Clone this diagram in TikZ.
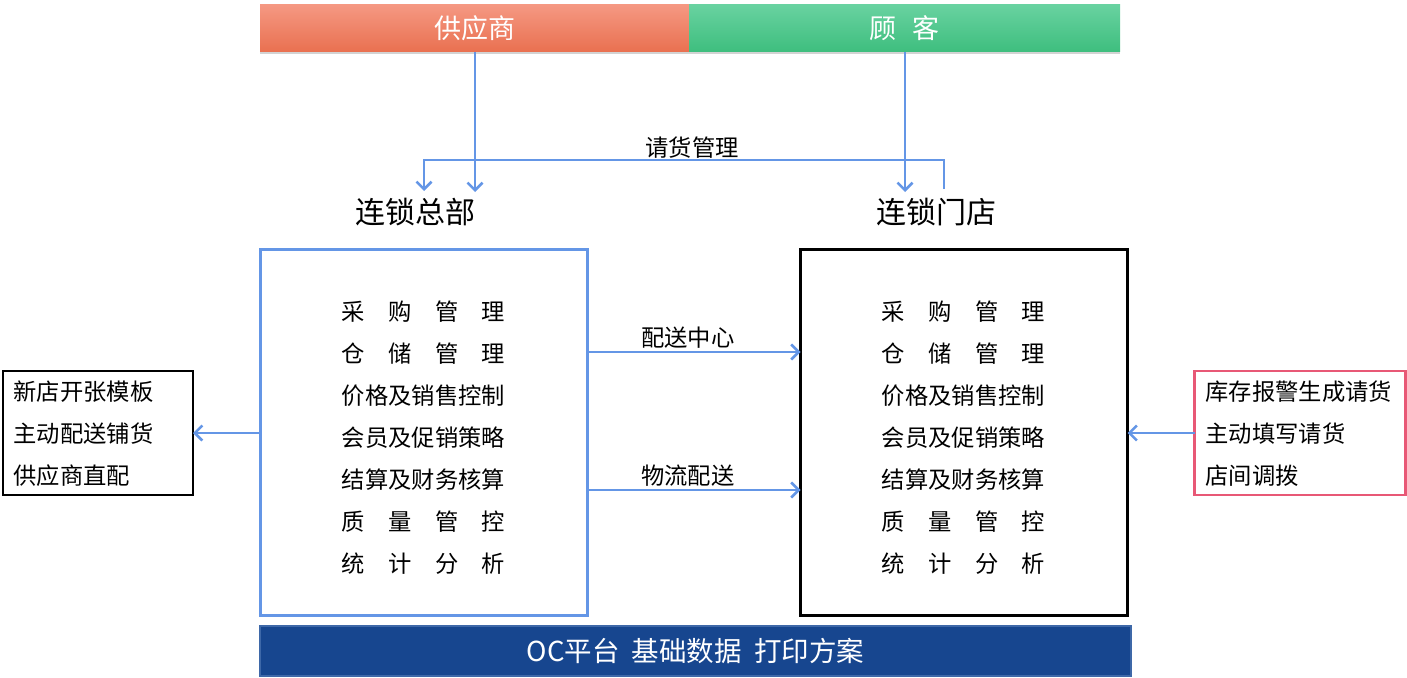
\documentclass[tikz,border=0pt]{standalone}
\usepackage{fontspec}
\setmainfont{Noto Sans CJK SC}
\usetikzlibrary{arrows.meta,shadows}
\definecolor{lineblue}{RGB}{100,150,230}
\definecolor{pinkline}{RGB}{232,88,118}
\definecolor{ocfill}{RGB}{23,70,143}
\definecolor{ocline}{RGB}{62,104,168}
\definecolor{orTop}{RGB}{245,152,130}
\definecolor{orBot}{RGB}{233,112,80}
\definecolor{grTop}{RGB}{104,210,160}
\definecolor{grBot}{RGB}{62,190,126}
\tikzset{
  body/.style={font=\fontsize{23.3}{42}\selectfont},
  barbox/.style={inner sep=0pt, outer sep=0pt, text=white, font=\fontsize{27}{30}\selectfont,
    drop shadow={opacity=0.35, shadow xshift=0pt, shadow yshift=-2.5pt}},
  conn/.style={draw=lineblue, line width=2.6pt, -{Straight Barb[length=7.5pt,width=15pt,line width=2.6pt]}},
  heading/.style={font=\fontsize{30}{34}\selectfont, inner sep=0pt},
  bigbox/.style={minimum width=327, minimum height=366, inner sep=0pt, outer sep=0pt},
  sidebox/.style={minimum width=190, minimum height=124, inner sep=0pt, outer sep=0pt},
}
\newcommand{\spreadrow}[4]{\makebox[7em][s]{#1\hfill #2\hfill #3\hfill #4}}
\newcommand{\boxlines}{\spreadrow{采}{购}{管}{理}\\
  \spreadrow{仓}{储}{管}{理}\\
  价格及销售控制\\
  会员及促销策略\\
  结算及财务核算\\
  \spreadrow{质}{量}{管}{控}\\
  \spreadrow{统}{计}{分}{析}}
\begin{document}
\begin{tikzpicture}[x=1pt,y=-1pt]
\useasboundingbox (0,0) rectangle (1407,677);
% top bar
\node[barbox, top color=orTop, bottom color=orBot, minimum width=429, minimum height=47] (supp) at (474.5,28.5) {供应商};
\node[barbox, top color=grTop, bottom color=grBot, minimum width=431, minimum height=47] (cust) at (904.5,28.5) {顾\hspace{0.6em}客};
% headings
\node[heading] (hq) at (415,212) {连锁总部};
\node[heading] (store) at (936,212) {连锁门店};
\coordinate (hqA) at (475,192);
\coordinate (hqB) at (424,191);
\coordinate (stA) at (905,192);
\coordinate (stB) at (944,189);
\draw[conn] (supp.south -| hqA) -- (hqA);
\draw[conn] (cust.south -| stA) -- (stA);
\draw[conn] (stB) -- (944,160) -- node[above, body, pos=0.5, yshift=-3pt, xshift=8pt] (req) {请货管理} (424,160) -- (hqB);
% big boxes
\node[bigbox, draw=lineblue, line width=3pt] (hqbox) at (423.5,432) {};
\node[bigbox, draw=black, line width=3.2pt] (stbox) at (964,432.5) {};
\node[body, align=center] (hqtext) at (423.5,438) {\boxlines};
\node[body, align=center] (sttext) at (963.5,438) {\boxlines};
% centre connectors
\draw[conn] (hqbox.east |- 0,352) -- node[above, body, yshift=-1pt, xshift=-6pt] (dc) {配送中心} (stbox.west |- 0,352);
\draw[conn] (hqbox.east |- 0,490) -- node[above, body, yshift=-1pt, xshift=-6pt] (lg) {物流配送} (stbox.west |- 0,490);
% side boxes
\node[sidebox, draw=black, line width=2.8pt] (lbox) at (98,433) {};
\node[body, align=left, anchor=west] (ltext) at (10,434) {新店开张模板\\主动配送铺货\\供应商直配};
\node[sidebox, draw=pinkline, line width=2.8pt, minimum width=211] (rbox) at (1300,433) {};
\node[body, align=left, anchor=west] (rtext) at (1202,434) {库存报警生成请货\\主动填写请货\\店间调拨};
\draw[conn] (hqbox.west |- lbox.east) -- (lbox.east);
\draw[conn] (rbox.west) -- (stbox.east |- rbox.west);
% bottom bar
\node[fill=ocfill, draw=ocline, line width=2pt, minimum width=871, minimum height=50, inner sep=0pt,
  text=white, font=\fontsize{27.5}{30}\selectfont] (oc) at (695.5,651) {OC平台\hspace{0.45em}基础数据\hspace{0.45em}打印方案};
\end{tikzpicture}
\end{document}
